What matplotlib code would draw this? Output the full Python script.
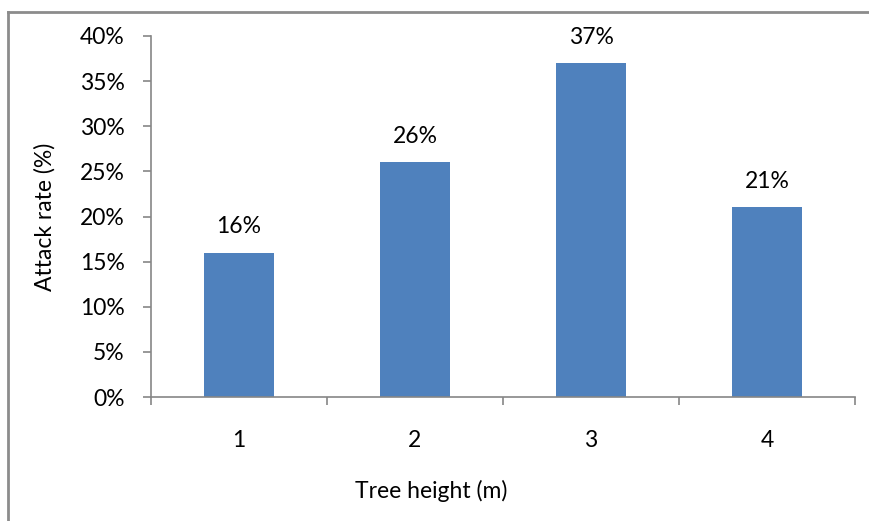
import matplotlib
matplotlib.use("Agg")
import matplotlib.pyplot as plt
from matplotlib.lines import Line2D
import numpy as np

# データ
heights = ["1", "2", "3", "4"]
attack_rate = [16, 26, 37, 21]   # %
y_ticks = [0, 5, 10, 15, 20, 25, 30, 35, 40]

plt.rcParams['font.family'] = ['Lato', 'DejaVu Sans']
fs = 16.5

fig = plt.figure(figsize=(8.7, 5.21), dpi=100)
fig.patch.set_facecolor('w')
ax = fig.add_axes([151/870, 1-397/521, (855-151)/870, (397-36)/521])

x = np.arange(len(heights))
ax.bar(x, attack_rate, width=0.4, color='#4F81BD', zorder=2)

for xi, v in zip(x, attack_rate):
    ax.text(xi, v + 1.7, str(v) + "%", ha='center', va='bottom', fontsize=fs, color='black')

ax.set_xlim(-0.5, len(heights) - 0.5)
ax.set_ylim(0, 40)
ax.set_yticks(y_ticks)
ax.set_yticklabels([str(t) + "%" for t in y_ticks])

# カテゴリの境界に目盛り
ax.set_xticks(np.arange(-0.5, len(heights)), minor=False)
ax.set_xticklabels([])
ax.set_xticks(x, minor=True)
ax.set_xticklabels(heights, minor=True)
ax.tick_params(axis='x', which='major', length=6, width=1.2, color='#868686', direction='out')
ax.tick_params(axis='x', which='minor', length=0, pad=24, labelsize=fs)
ax.tick_params(axis='y', length=6, width=1.2, color='#868686', direction='out', labelsize=fs, pad=13)

# 枠の色
for s in ['top', 'right']:
    ax.spines[s].set_visible(False)
ax.spines['left'].set_color('#868686')
ax.spines['bottom'].set_color('#868686')
ax.spines['left'].set_linewidth(1.2)
ax.spines['bottom'].set_linewidth(1.2)

# 軸ラベル(x軸ラベルは元図と同じく少し左寄り)
ax.set_xlabel("Tree height (m)", fontsize=fs)
ax.set_ylabel("Attack rate (%)", fontsize=fs)
ax.xaxis.set_label_coords((431-151)/704, (397-491)/361, transform=ax.transAxes)
ax.xaxis.label.set_va('center')
ax.yaxis.set_label_coords((45-151)/704, 0.5, transform=ax.transAxes)
ax.yaxis.label.set_va('center')

# 外枠(左と上だけ見えている)
fig.add_artist(Line2D([8.5/870, 8.5/870], [0, 1-12/521], transform=fig.transFigure, color='#8c8c8c', lw=2))
fig.add_artist(Line2D([8.5/870, 1], [1-12/521, 1-12/521], transform=fig.transFigure, color='#8c8c8c', lw=2))

plt.savefig("out.png", dpi=100)
plt.close()
